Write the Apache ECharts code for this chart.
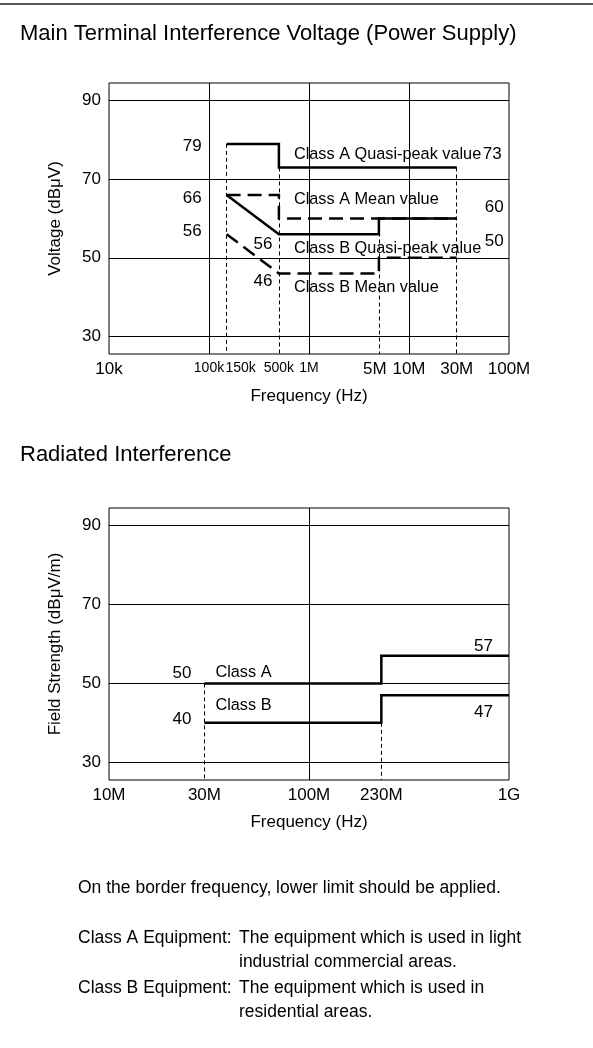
<!DOCTYPE html>
<html><head><meta charset="utf-8">
<script src="https://cdn.jsdelivr.net/npm/echarts@6/dist/echarts.min.js"></script>
<style>html,body{margin:0;padding:0;background:#fff}#c{width:593px;height:1048px}</style>
</head><body><div id="c"></div>
<script>
// ---------- DATA: Main terminal interference voltage (Hz, dBμV) ----------
const conductedTicks = [1e4, 1e5, 1.5e5, 5e5, 1e6, 5e6, 1e7, 3e7, 1e8];
const conductedTickLabels = ['10k', '100k', '150k', '500k', '1M', '5M', '10M', '30M', '100M'];
const conductedDecades = [1e5, 1e6, 1e7];
const classAQuasiPeak = [[1.5e5, 79], [5e5, 79], [5e5, 73], [3e7, 73]];
const classAMean = [[1.5e5, 66], [5e5, 66], [5e5, 60], [3e7, 60]];
const classBQuasiPeak = [[1.5e5, 66], [5e5, 56], [5e6, 56], [5e6, 60], [3e7, 60]];
const classBMean = [[1.5e5, 56], [5e5, 46], [5e6, 46], [5e6, 50], [3e7, 50]];
const conductedGuides = [[1.5e5, 79], [5e5, 73], [5e6, 60], [3e7, 73]];

// ---------- DATA: Radiated interference (Hz, dBμV/m) ----------
const radiatedTicks = [1e7, 3e7, 1e8, 2.3e8, 1e9];
const radiatedTickLabels = ['10M', '30M', '100M', '230M', '1G'];
const radiatedDecades = [1e8];
const radiatedClassA = [[3e7, 50], [2.3e8, 50], [2.3e8, 57], [1e9, 57]];
const radiatedClassB = [[3e7, 40], [2.3e8, 40], [2.3e8, 47], [1e9, 47]];
const radiatedGuides = [[3e7, 50], [2.3e8, 40]];

const levelTicks = [30, 50, 70, 90];
const levelMin = 25.5, levelMax = 94.5;

// ---------- text annotations (anchored on data coordinates) ----------
const conductedNotes = [
  { text: '79', at: [1.5e5, 79], align: 'right', offset: [-25, 2] },
  { text: '66', at: [1.5e5, 66], align: 'right', offset: [-25, 3.5] },
  { text: '56', at: [1.5e5, 56], align: 'right', offset: [-25, -2.4] },
  { text: '56', at: [5e5, 56], align: 'right', offset: [-6.5, 10] },
  { text: '46', at: [5e5, 46], align: 'right', offset: [-6.5, 8] },
  { text: 'Class A Quasi-peak value', at: [5e5, 73], align: 'left', offset: [15, -13], small: true },
  { text: '73', at: [3e7, 73], align: 'left', offset: [26, -13.5] },
  { text: 'Class A Mean value', at: [5e5, 60], align: 'left', offset: [15, -18.7], small: true },
  { text: '60', at: [3e7, 60], align: 'left', offset: [28, -11.2] },
  { text: 'Class B Quasi-peak value', at: [5e5, 56], align: 'left', offset: [15, 14], small: true },
  { text: '50', at: [3e7, 50], align: 'left', offset: [28, -16.3] },
  { text: 'Class B Mean value', at: [5e5, 46], align: 'left', offset: [15, 14.2], small: true }
];
const radiatedNotes = [
  { text: '50', at: [3e7, 50], align: 'right', offset: [-13, -10.5] },
  { text: 'Class A', at: [3e7, 50], align: 'left', offset: [11, -11], small: true },
  { text: '40', at: [3e7, 40], align: 'right', offset: [-13, -4] },
  { text: 'Class B', at: [3e7, 40], align: 'left', offset: [11, -17], small: true },
  { text: '57', at: [1e9, 57], align: 'right', offset: [-16, -9.5] },
  { text: '47', at: [1e9, 47], align: 'right', offset: [-16, 17.4] }
];

const FONT = '"Liberation Sans", Arial, sans-serif';

function nearestIndex(ticks, v) {
  let best = 0, bd = Infinity;
  ticks.forEach((t, i) => { const d = Math.abs(Math.log10(t) - Math.log10(v)); if (d < bd) { bd = d; best = i; } });
  return best;
}

function limitSeries(data, dashed, idx) {
  return {
    type: 'line', xAxisIndex: idx, yAxisIndex: idx, data: data,
    showSymbol: false, symbol: 'none', silent: true, animation: false,
    lineStyle: { color: '#000', width: 2.5, type: dashed ? [14, 7] : 'solid', cap: 'butt', join: 'miter' },
    z: 5
  };
}
function gridLines(decades) {
  return {
    silent: true, symbol: ['none', 'none'], label: { show: false }, animation: false,
    lineStyle: { color: '#000', width: 1, type: 'solid' },
    emphasis: { disabled: true },
    data: levelTicks.map(v => ({ yAxis: v })).concat(decades.map(v => ({ xAxis: v })))
  };
}
function guideLines(guides) {
  return {
    silent: true, symbol: ['none', 'none'], label: { show: false }, animation: false,
    lineStyle: { color: '#000', width: 1, type: [4, 3] },
    emphasis: { disabled: true },
    data: guides.map(g => [{ coord: [g[0], g[1]] }, { coord: [g[0], levelMin] }])
  };
}
function notes(list) {
  return {
    silent: true, symbol: 'circle', symbolSize: 0, animation: false,
    itemStyle: { color: 'transparent' },
    data: list.map(n => ({
      coord: n.at, value: 0,
      label: {
        show: true, formatter: n.text, position: 'inside', align: n.align, verticalAlign: 'middle',
        offset: n.offset, color: '#000', fontSize: n.small ? 16.3 : 17, fontFamily: FONT
      }
    }))
  };
}
// label styling keys: 'n' small, 's' small shifted right, 'l' shifted left
function xAxisDef(idx, min, max, ticks, labels, styleMap) {
  return {
    type: 'log', logBase: 10, gridIndex: idx, min: min, max: max,
    axisLine: { show: false }, axisTick: { show: false }, splitLine: { show: false },
    name: 'Frequency (Hz)', nameLocation: 'middle', nameGap: 34, nameMoveOverlap: false,
    nameTextStyle: { color: '#000', fontSize: 17, fontFamily: FONT },
    axisLabel: {
      customValues: ticks, margin: 7, color: '#000', fontSize: 17, fontFamily: FONT, hideOverlap: false,
      showMinLabel: true, showMaxLabel: true,
      formatter: v => {
        const t = labels[nearestIndex(ticks, v)];
        const k = styleMap[t];
        return k ? '{' + k + '|' + t + '}' : t;
      },
      rich: {
        n: { fontFamily: FONT, fontSize: 14, color: '#000' },
        s: { fontFamily: FONT, fontSize: 14, color: '#000', padding: [0, 0, 0, 28] },
        l: { fontFamily: FONT, fontSize: 17, color: '#000', padding: [0, 8, 0, 0] }
      }
    }
  };
}
function yAxisDef(idx, name) {
  return {
    type: 'value', gridIndex: idx, min: levelMin, max: levelMax,
    axisLine: { show: false }, axisTick: { show: false }, splitLine: { show: false },
    name: name, nameLocation: 'middle', nameGap: 45, nameRotate: 90, nameMoveOverlap: false,
    nameTextStyle: { color: '#000', fontSize: 17, fontFamily: FONT },
    axisLabel: { customValues: levelTicks, margin: 8, color: '#000', fontSize: 17, fontFamily: FONT,
      showMinLabel: true, showMaxLabel: true, hideOverlap: false }
  };
}

const chart = echarts.init(document.getElementById('c'), null, { renderer: 'canvas' });
const gridBase = { show: true, borderColor: '#000', borderWidth: 1, backgroundColor: 'transparent',
  left: 109, width: 400, containLabel: false, outerBoundsMode: 'none' };

const txt = (x, y, text, size) => ({
  type: 'text', x: x, y: y, silent: true,
  style: { text: text, fill: '#000', fontSize: size, fontFamily: FONT, verticalAlign: 'middle', textVerticalAlign: 'middle' }
});

chart.setOption({
  animation: false,
  backgroundColor: '#fff',
  grid: [
    Object.assign({}, gridBase, { top: 83, height: 271 }),
    Object.assign({}, gridBase, { top: 508, height: 272 })
  ],
  xAxis: [
    xAxisDef(0, 1e4, 1e8, conductedTicks, conductedTickLabels,
      { '100k': 'n', '150k': 's', '500k': 'n', '1M': 'n', '5M': 'l' }),
    xAxisDef(1, 1e7, 1e9, radiatedTicks, radiatedTickLabels, {})
  ],
  yAxis: [
    yAxisDef(0, 'Voltage (dBμV)'),
    yAxisDef(1, 'Field Strength (dBμV/m)')
  ],
  series: [
    Object.assign(limitSeries(classAQuasiPeak, false, 0), { markLine: gridLines(conductedDecades) }),
    Object.assign(limitSeries(classAMean, true, 0), { markLine: guideLines(conductedGuides) }),
    Object.assign(limitSeries(classBQuasiPeak, false, 0), { markPoint: notes(conductedNotes) }),
    limitSeries(classBMean, true, 0),
    Object.assign(limitSeries(radiatedClassA, false, 1), { markLine: gridLines(radiatedDecades), markPoint: notes(radiatedNotes) }),
    Object.assign(limitSeries(radiatedClassB, false, 1), { markLine: guideLines(radiatedGuides) })
  ],
  graphic: [
    { type: 'rect', silent: true, shape: { x: 0, y: 3, width: 593, height: 2 }, style: { fill: '#555' } },
    txt(20, 34, 'Main Terminal Interference Voltage (Power Supply)', 22),
    txt(20, 455, 'Radiated Interference', 22),
    txt(78, 888, 'On the border frequency, lower limit should be applied.', 17.5),
    txt(78, 938, 'Class A Equipment:', 17.5),
    txt(239, 938, 'The equipment which is used in light', 17.5),
    txt(239, 962.5, 'industrial commercial areas.', 17.5),
    txt(78, 988, 'Class B Equipment:', 17.5),
    txt(239, 988, 'The equipment which is used in', 17.5),
    txt(239, 1012, 'residential areas.', 17.5)
  ]
});
</script>
</body></html>
